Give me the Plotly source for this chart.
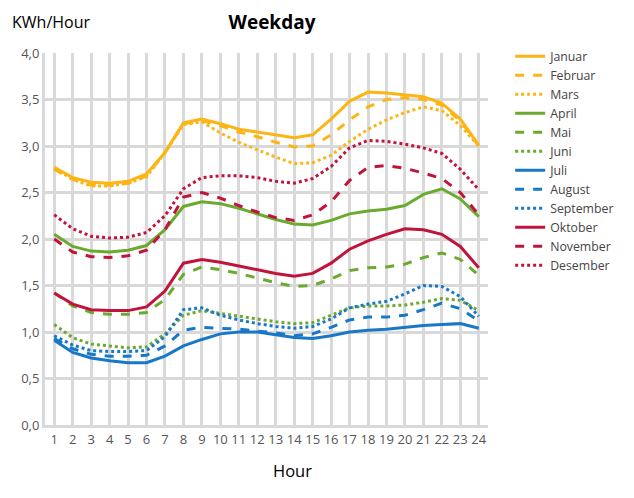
import plotly.graph_objects as go

hours = list(range(1, 25))

months = ["Januar", "Februar", "Mars", "April", "Mai", "Juni",
          "Juli", "August", "September", "Oktober", "November", "Desember"]

januar = [2.77, 2.66, 2.61, 2.60, 2.62, 2.70, 2.93, 3.25, 3.29, 3.24, 3.18, 3.15,
          3.12, 3.09, 3.12, 3.29, 3.48, 3.58, 3.57, 3.55, 3.53, 3.46, 3.29, 3.01]
februar = [2.75, 2.64, 2.58, 2.58, 2.60, 2.68, 2.93, 3.24, 3.27, 3.22, 3.15, 3.10,
           3.04, 2.99, 3.00, 3.12, 3.28, 3.42, 3.50, 3.52, 3.50, 3.44, 3.27, 3.00]
mars = [2.76, 2.64, 2.57, 2.57, 2.60, 2.67, 2.93, 3.23, 3.26, 3.14, 3.04, 2.96,
        2.88, 2.81, 2.82, 2.90, 3.05, 3.18, 3.28, 3.36, 3.42, 3.38, 3.22, 3.00]
april = [2.05, 1.92, 1.87, 1.86, 1.88, 1.93, 2.10, 2.35, 2.40, 2.38, 2.33, 2.27,
         2.21, 2.16, 2.15, 2.20, 2.27, 2.30, 2.32, 2.36, 2.48, 2.54, 2.43, 2.24]
mai = [1.42, 1.28, 1.21, 1.19, 1.19, 1.21, 1.35, 1.62, 1.70, 1.67, 1.63, 1.58,
       1.53, 1.49, 1.50, 1.57, 1.66, 1.69, 1.70, 1.73, 1.80, 1.85, 1.78, 1.61]
juni = [1.08, 0.94, 0.87, 0.85, 0.83, 0.84, 0.98, 1.18, 1.23, 1.20, 1.17, 1.14,
        1.11, 1.09, 1.10, 1.18, 1.26, 1.28, 1.28, 1.29, 1.32, 1.36, 1.34, 1.23]
juli = [0.91, 0.78, 0.72, 0.69, 0.67, 0.67, 0.74, 0.85, 0.92, 0.98, 1.00, 1.00,
        0.97, 0.94, 0.93, 0.96, 1.00, 1.02, 1.03, 1.05, 1.07, 1.08, 1.09, 1.04]
august = [0.93, 0.82, 0.76, 0.74, 0.74, 0.75, 0.85, 1.02, 1.05, 1.04, 1.03, 1.01,
          0.99, 0.96, 0.98, 1.05, 1.13, 1.16, 1.16, 1.18, 1.24, 1.31, 1.25, 1.12]
september = [0.96, 0.86, 0.80, 0.79, 0.79, 0.80, 0.95, 1.24, 1.26, 1.18, 1.13, 1.09,
             1.06, 1.04, 1.06, 1.14, 1.26, 1.30, 1.33, 1.41, 1.50, 1.49, 1.38, 1.17]
oktober = [1.42, 1.30, 1.24, 1.23, 1.23, 1.27, 1.44, 1.74, 1.78, 1.75, 1.71, 1.67,
           1.63, 1.60, 1.63, 1.74, 1.89, 1.98, 2.05, 2.11, 2.10, 2.05, 1.92, 1.69]
november = [2.00, 1.86, 1.81, 1.80, 1.82, 1.88, 2.10, 2.45, 2.50, 2.44, 2.36, 2.29,
            2.23, 2.20, 2.26, 2.40, 2.63, 2.77, 2.79, 2.76, 2.71, 2.65, 2.50, 2.26]
desember = [2.26, 2.11, 2.03, 2.01, 2.02, 2.07, 2.25, 2.54, 2.66, 2.68, 2.68, 2.66,
            2.62, 2.60, 2.65, 2.78, 2.98, 3.06, 3.05, 3.02, 2.98, 2.92, 2.75, 2.53]

values = [januar, februar, mars, april, mai, juni,
          juli, august, september, oktober, november, desember]

# one colour per season, dash style cycles solid/dash/dot
colors = ["#FDB515"] * 3 + ["#6BAA2F"] * 3 + ["#1878C8"] * 3 + ["#C0143C"] * 3
dashes = ["solid", "dash", "dot"] * 4

# page body has an 8px margin, so the figure is a bit smaller than the window
W, H = 626, 490
L, T, R, B = 37, 45, 146, 73
pw, ph = W - L - R, H - T - B

fig = go.Figure()
for name, y, c, d in zip(months, values, colors, dashes):
    fig.add_trace(go.Scatter(x=hours, y=y, name=name, mode="lines",
                             line=dict(color=c, width=3, dash=d)))

fig.update_layout(
    width=W, height=H,
    margin=dict(l=L, r=R, t=T, b=B),
    paper_bgcolor="white", plot_bgcolor="white",
    separators=",.",
    font=dict(family="Open Sans", color="#333333"),
    title=dict(text="<b>Weekday</b>", x=264 / W, xanchor="center",
               y=1 - 14 / H, yanchor="middle",
               font=dict(size=19, color="black")),
    legend=dict(x=1.05, y=1.03, xanchor="left", yanchor="top",
                font=dict(size=12.3, color="#444444"),
                tracegroupgap=0, itemwidth=30, bgcolor="rgba(0,0,0,0)"),
    showlegend=True,
)
fig.update_xaxes(range=[0.5, 24.5], tickmode="linear", tick0=1, dtick=1,
                 showgrid=True, gridcolor="#d9d9d9", gridwidth=2.5,
                 showline=True, linecolor="#d9d9d9", linewidth=3,
                 tickfont=dict(size=13, color="#555555"), ticks="",
                 zeroline=False, fixedrange=True)
fig.update_yaxes(range=[0, 4.0], tickmode="linear", tick0=0, dtick=0.5,
                 tickformat=".1f", showgrid=True, gridcolor="#d9d9d9", gridwidth=2.5,
                 showline=True, linecolor="#d9d9d9", linewidth=3,
                 tickfont=dict(size=13, color="#555555"), ticks="",
                 zeroline=False)

fig.add_annotation(text="KWh/Hour", xref="paper", yref="paper",
                   x=-(L - 2) / pw, xanchor="left", y=1 + 31 / ph, yanchor="middle",
                   showarrow=False, font=dict(size=16, color="black"))
fig.add_annotation(text="Hour", xref="paper", yref="paper",
                   x=(284 - L) / pw, xanchor="center", y=-45 / ph, yanchor="middle",
                   showarrow=False, font=dict(size=16.5, color="black"))

fig.write_html("out.html")
